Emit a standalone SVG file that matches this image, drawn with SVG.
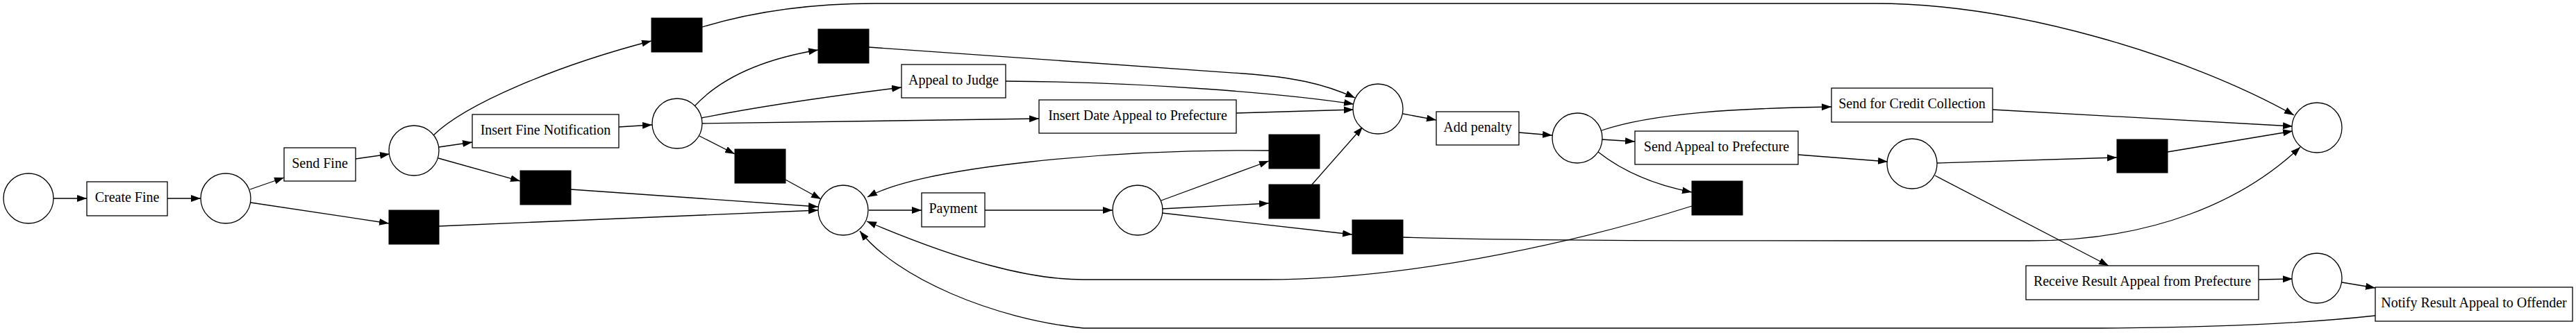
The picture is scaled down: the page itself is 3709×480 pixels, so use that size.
<svg xmlns="http://www.w3.org/2000/svg" width="3709" height="480" viewBox="0 0 3709 480">
<style>
.p{fill:#fff;stroke:#000;stroke-width:1.3}
.t{fill:#fff;stroke:#000;stroke-width:1.3}
.h{fill:#000;stroke:#000;stroke-width:1}
.l{font-family:"Liberation Serif","Times New Roman",serif;font-size:20px;text-anchor:middle;fill:#000}
#edges path{fill:none;stroke:#000;stroke-width:1.3;marker-end:url(#ah)}
</style>
<defs>
<marker id="ah" markerUnits="userSpaceOnUse" markerWidth="15" markerHeight="11" refX="14" refY="5" orient="auto">
<path d="M0,0 L14,5 L0,10 z" fill="#000"/>
</marker>
</defs>
<rect width="3709" height="480" fill="#fff"/>
<g id="edges">
<path d="M77,286 L125,286"/>
<path d="M241,286 L289,286"/>
<path d="M360,273 L409,256"/>
<path d="M361,292 L560,322"/>
<path d="M512,229 L561,222"/>
<path d="M632,212 L680,205"/>
<path d="M624,195 C670,150 800,95 938,59"/>
<path d="M631,228 L749,261"/>
<path d="M632,326 L1178,303"/>
<path d="M822,273 L1178,298"/>
<path d="M891,183 L939,180"/>
<path d="M1007,196 L1058,222"/>
<path d="M1131,259 L1182,287"/>
<path d="M1000,153 C1040,110 1100,85 1178,72"/>
<path d="M1010,170 C1100,152 1200,138 1298,126"/>
<path d="M1010,178 L1496,171"/>
<path d="M1011,39 C1080,18 1160,5 1260,5 L2700,5 C2900,5 3150,80 3303,166"/>
<path d="M1251,68 L1790,106 C1860,111 1905,120 1951,141"/>
<path d="M1448,117 C1650,118 1850,135 1949,150"/>
<path d="M1780,163 L1949,158"/>
<path d="M1251,303 L1327,303"/>
<path d="M1418,303 L1602,303"/>
<path d="M1672,289 L1827,232"/>
<path d="M1673,301 L1827,293"/>
<path d="M1673,307 L1947,338"/>
<path d="M1827,217 C1600,215 1330,240 1249,284"/>
<path d="M1889,266 L1962,183"/>
<path d="M2020,342 C2200,347 2400,347 2700,347 L2922,347 C3100,347 3230,290 3312,212"/>
<path d="M2020,164 L2068,173"/>
<path d="M2187,191 L2235,195"/>
<path d="M2306,201 L2354,204"/>
<path d="M2306,188 C2380,163 2500,156 2637,154"/>
<path d="M2301,219 C2340,250 2390,268 2436,277"/>
<path d="M2436,297 C2300,340 2050,403 1820,403 L1560,403 C1480,403 1380,375 1248,319"/>
<path d="M2589,223 L2718,233"/>
<path d="M2869,158 L3301,182"/>
<path d="M2789,235 L3048,227"/>
<path d="M3121,219 L3301,189"/>
<path d="M2786,253 L3036,383"/>
<path d="M3252,403 L3301,402"/>
<path d="M3372,407 L3420,415"/>
<path d="M3420,455 C3300,468 3150,473 3000,473 L1560,473 C1430,460 1290,400 1238,333"/>
</g>
<g id="p0"><ellipse class="p" cx="41" cy="286" rx="36" ry="36"/></g>
<g id="p1"><ellipse class="p" cx="325" cy="286" rx="36" ry="36"/></g>
<g id="p2"><ellipse class="p" cx="596" cy="217" rx="36" ry="36"/></g>
<g id="p3"><ellipse class="p" cx="975" cy="178" rx="36" ry="36"/></g>
<g id="p4"><ellipse class="p" cx="1214" cy="303" rx="36" ry="36"/></g>
<g id="p5"><ellipse class="p" cx="1638" cy="303" rx="36" ry="36"/></g>
<g id="p6"><ellipse class="p" cx="1984" cy="157" rx="36" ry="36"/></g>
<g id="p7"><ellipse class="p" cx="2271" cy="199" rx="36" ry="36"/></g>
<g id="p8"><ellipse class="p" cx="2753" cy="236" rx="36" ry="36"/></g>
<g id="p9"><ellipse class="p" cx="3336" cy="184" rx="36" ry="36"/></g>
<g id="p10"><ellipse class="p" cx="3336" cy="401" rx="36" ry="36"/></g>
<g id="t_create_fine"><rect class="t" x="125" y="262" width="116" height="49"/><text class="l" x="183" y="291">Create Fine</text></g>
<g id="t_send_fine"><rect class="t" x="409" y="213" width="103" height="48"/><text class="l" x="460.5" y="242">Send Fine</text></g>
<g id="t_insert_fine_notification"><rect class="t" x="680" y="165" width="211" height="48"/><text class="l" x="785.5" y="194">Insert Fine Notification</text></g>
<g id="t_appeal_to_judge"><rect class="t" x="1298" y="93" width="150" height="48"/><text class="l" x="1373" y="122">Appeal to Judge</text></g>
<g id="t_insert_date_appeal"><rect class="t" x="1496" y="144" width="284" height="48"/><text class="l" x="1638" y="173">Insert Date Appeal to Prefecture</text></g>
<g id="t_payment"><rect class="t" x="1327" y="278" width="91" height="49"/><text class="l" x="1372.5" y="307">Payment</text></g>
<g id="t_add_penalty"><rect class="t" x="2068" y="161" width="119" height="48"/><text class="l" x="2127.5" y="190">Add penalty</text></g>
<g id="t_send_appeal"><rect class="t" x="2354" y="189" width="235" height="48"/><text class="l" x="2471.5" y="218">Send Appeal to Prefecture</text></g>
<g id="t_send_credit"><rect class="t" x="2637" y="127" width="232" height="49"/><text class="l" x="2753" y="156">Send for Credit Collection</text></g>
<g id="t_receive_result"><rect class="t" x="2917" y="383" width="335" height="49"/><text class="l" x="3084.5" y="412">Receive Result Appeal from Prefecture</text></g>
<g id="t_notify_result"><rect class="t" x="3420" y="414" width="284" height="49"/><text class="l" x="3562" y="443">Notify Result Appeal to Offender</text></g>
<g id="b1"><rect class="h" x="560" y="303" width="72" height="49"/></g>
<g id="b2"><rect class="h" x="938" y="26" width="73" height="49"/></g>
<g id="b3"><rect class="h" x="749" y="246" width="73" height="49"/></g>
<g id="b4"><rect class="h" x="1058" y="215" width="73" height="49"/></g>
<g id="b5"><rect class="h" x="1178" y="42" width="73" height="49"/></g>
<g id="b6"><rect class="h" x="1827" y="194" width="73" height="49"/></g>
<g id="b7"><rect class="h" x="1827" y="266" width="73" height="49"/></g>
<g id="b8"><rect class="h" x="1947" y="317" width="73" height="49"/></g>
<g id="b9"><rect class="h" x="2436" y="261" width="73" height="49"/></g>
<g id="b10"><rect class="h" x="3048" y="201" width="73" height="48"/></g>
</svg>
